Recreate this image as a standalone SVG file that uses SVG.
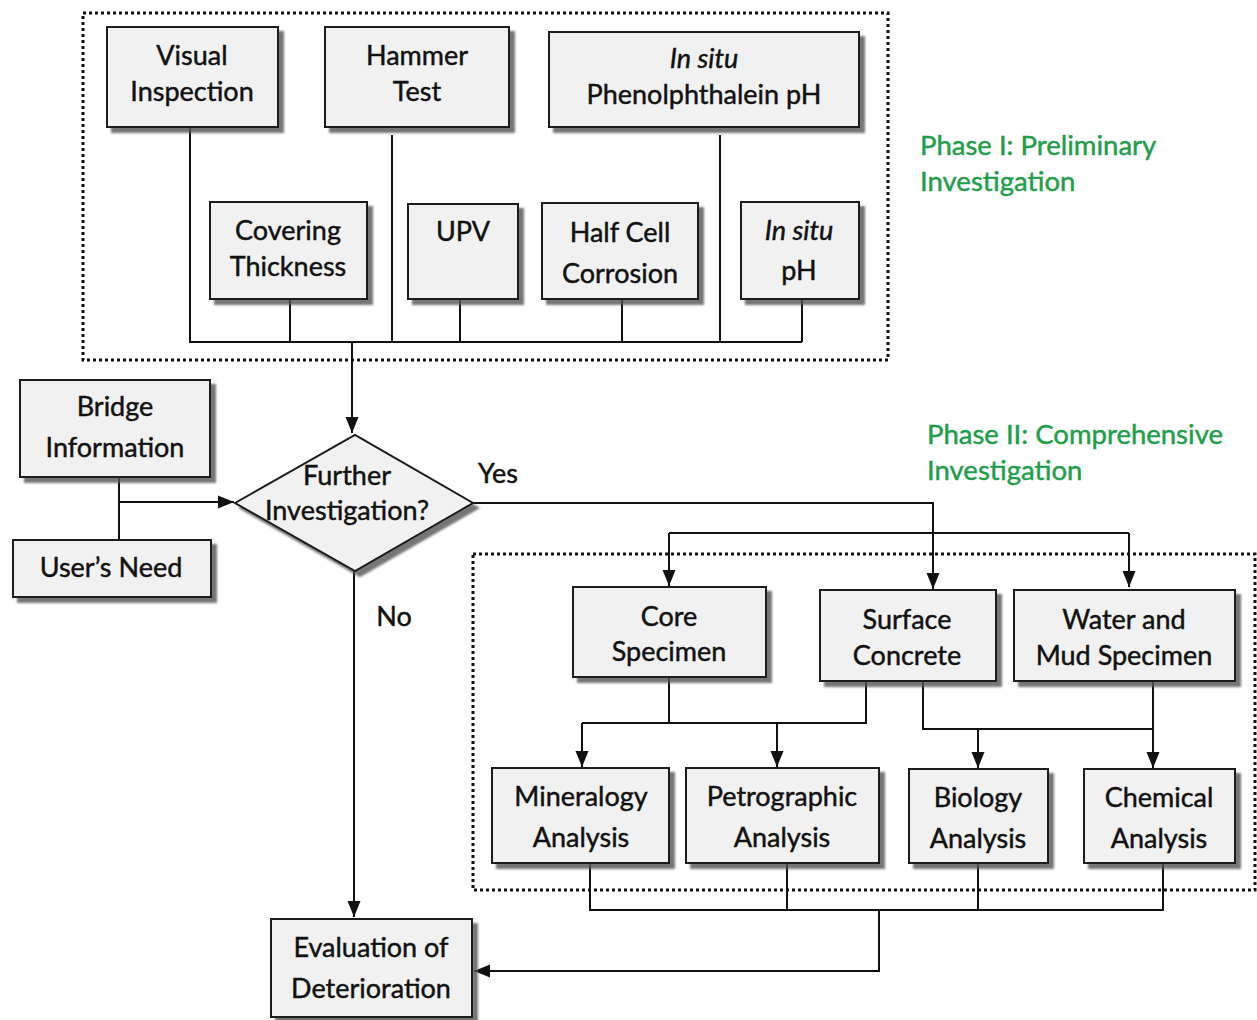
<svg xmlns="http://www.w3.org/2000/svg" width="1257" height="1020" viewBox="0 0 1257 1020">
<style>
.box{fill:#f1f1f1;stroke:#1a1a1a;stroke-width:2;filter:url(#sh)}
.t{font-family:Lato,"Liberation Sans",sans-serif;font-size:27px;fill:#111;stroke:#111;stroke-width:0.45;text-anchor:middle}
.i{font-style:italic}
.g{font-family:Lato,"Liberation Sans",sans-serif;font-size:27.5px;fill:#1f9e4a;stroke:#1f9e4a;stroke-width:0.45}
.c{fill:none;stroke:#111;stroke-width:2}
.a{fill:none;stroke:#111;stroke-width:2;marker-end:url(#ah)}
.dot{fill:none;stroke:#111;stroke-width:3;stroke-dasharray:3 3}
</style>
<defs>
<filter id="sh" x="-10%" y="-10%" width="130%" height="140%">
<feDropShadow dx="5" dy="5" stdDeviation="1.2" flood-color="#555" flood-opacity="0.8"/>
</filter>
<marker id="ah" markerUnits="userSpaceOnUse" markerWidth="16" markerHeight="16" viewBox="0 0 16 16" refX="16" refY="8" orient="auto">
<path d="M0,1.5 L16,8 L0,14.5 Z" fill="#111"/>
</marker>
</defs>
<rect width="1257" height="1020" fill="#fff"/>
<g id="phase1-frame"><rect class="dot" x="83" y="13" width="805" height="347"/></g>
<g id="phase2-frame"><rect class="dot" x="473" y="554" width="782" height="336"/></g>
<g id="connectors">
<path class="c" d="M190,127 V342 H802 M290,299 V342 M392,135 V342 M460,299 V342 M622,299 V342 M720,135 V342 M802,299 V342"/>
<path class="a" d="M352,342 V433"/>
<path class="c" d="M119,477 V540"/>
<path class="a" d="M119,502 H234"/>
<path class="a" d="M473,503 H933 V589"/>
<path class="c" d="M669,533 H1129"/>
<path class="a" d="M669,533 V586"/>
<path class="a" d="M1129,533 V587"/>
<path class="a" d="M354,571 V917"/>
<path class="c" d="M669,677 V723 M582,723 H866 V681"/>
<path class="a" d="M582,723 V767"/>
<path class="a" d="M777,723 V767"/>
<path class="c" d="M923,681 V729 H1153 V681"/>
<path class="a" d="M978,729 V768"/>
<path class="a" d="M1153,729 V768"/>
<path class="c" d="M590,863 V910 H1163 V863 M787,863 V910 M978,863 V910"/>
<path class="a" d="M879,910 V971 H474"/>
</g>
<g id="visual"><rect class="box" x="107" y="27" width="171" height="100"/><text class="t" x="192" y="65">Visual</text><text class="t" x="192" y="101">Inspection</text></g>
<g id="hammer"><rect class="box" x="325" y="27" width="184" height="100"/><text class="t" x="417" y="65">Hammer</text><text class="t" x="417" y="101">Test</text></g>
<g id="phenol"><rect class="box" x="549" y="32" width="310" height="95"/><text class="t i" x="704" y="68">In situ</text><text class="t" x="704" y="104">Phenolphthalein pH</text></g>
<g id="covering"><rect class="box" x="210" y="202" width="157" height="97"/><text class="t" x="288" y="240">Covering</text><text class="t" x="288" y="276">Thickness</text></g>
<g id="upv"><rect class="box" x="408" y="204" width="110" height="95"/><text class="t" x="463" y="241">UPV</text></g>
<g id="halfcell"><rect class="box" x="542" y="203" width="156" height="96"/><text class="t" x="620" y="242">Half Cell</text><text class="t" x="620" y="283">Corrosion</text></g>
<g id="insitu-ph"><rect class="box" x="741" y="202" width="118" height="97"/><text class="t i" x="799" y="240">In situ</text><text class="t" x="799" y="280">pH</text></g>
<g id="phase1-label"><text class="g" x="920" y="155">Phase I: Preliminary</text><text class="g" x="920" y="191">Investigation</text></g>
<g id="bridge"><rect class="box" x="20" y="380" width="190" height="97"/><text class="t" x="115" y="416">Bridge</text><text class="t" x="115" y="457">Information</text></g>
<g id="users"><rect class="box" x="13" y="540" width="198" height="57"/><text class="t" x="111" y="577">User’s Need</text></g>
<g id="decision"><path class="box" d="M235,503 L355,435 L473,503 L355,571 Z"/><text class="t" x="347" y="485">Further</text><text class="t" x="347" y="520">Investigation?</text></g>
<g id="labels"><text class="t" x="498" y="483">Yes</text><text class="t" x="394" y="626">No</text></g>
<g id="phase2-label"><text class="g" x="927" y="444">Phase II: Comprehensive</text><text class="g" x="927" y="480">Investigation</text></g>
<g id="core"><rect class="box" x="573" y="587" width="193" height="90"/><text class="t" x="669" y="626">Core</text><text class="t" x="669" y="661">Specimen</text></g>
<g id="surface"><rect class="box" x="820" y="590" width="176" height="91"/><text class="t" x="907" y="629">Surface</text><text class="t" x="907" y="665">Concrete</text></g>
<g id="water"><rect class="box" x="1014" y="590" width="221" height="91"/><text class="t" x="1124" y="629">Water and</text><text class="t" x="1124" y="665">Mud Specimen</text></g>
<g id="mineralogy"><rect class="box" x="492" y="768" width="177" height="95"/><text class="t" x="581" y="806">Mineralogy</text><text class="t" x="581" y="847">Analysis</text></g>
<g id="petro"><rect class="box" x="686" y="768" width="193" height="95"/><text class="t" x="782" y="806">Petrographic</text><text class="t" x="782" y="847">Analysis</text></g>
<g id="biology"><rect class="box" x="909" y="769" width="139" height="94"/><text class="t" x="978" y="807">Biology</text><text class="t" x="978" y="848">Analysis</text></g>
<g id="chemical"><rect class="box" x="1084" y="769" width="151" height="94"/><text class="t" x="1159" y="807">Chemical</text><text class="t" x="1159" y="848">Analysis</text></g>
<g id="evaluation"><rect class="box" x="271" y="919" width="201" height="98"/><text class="t" x="371" y="957">Evaluation of</text><text class="t" x="371" y="998">Deterioration</text></g>
</svg>
